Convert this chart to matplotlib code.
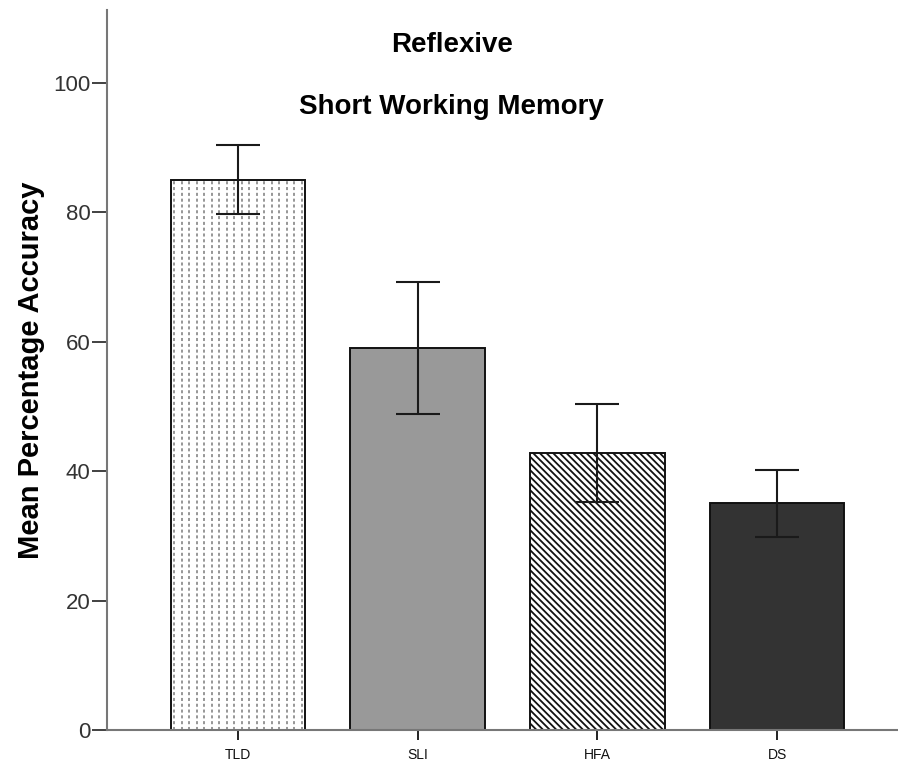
import matplotlib
matplotlib.use("Agg")
import matplotlib.pyplot as plt
import numpy as np

# Group means and 95% CI bounds (percent accuracy)
groups = ["TLD", "SLI", "HFA", "DS"]
means = [85.0, 59.0, 42.8, 35.1]
ci_low = [79.8, 48.8, 35.2, 29.8]
ci_high = [90.4, 69.2, 50.4, 40.2]
yticks = [0, 20, 40, 60, 80, 100]

title_lines = ["Reflexive", "Short Working Memory"]
ylabel = "Mean Percentage Accuracy"

plt.rcParams["font.family"] = ["Liberation Sans", "DejaVu Sans"]
plt.rcParams["hatch.linewidth"] = 1.3

fig = plt.figure(figsize=(8.98, 7.65), dpi=100)
ax = fig.add_axes([0.1192, 0.04575, 1.0 - 0.1192, 0.98693 - 0.04575])

x = np.arange(len(groups))
faces = ["white", "#999999", "white", "#333333"]
hatches = [None, None, "\\" * 5, None]

bars = ax.bar(x, means, width=0.75, color=faces, edgecolor="#111111",
              linewidth=1.4, zorder=2)
for b, h in zip(bars, hatches):
    if h:
        b.set_hatch(h)

# Dotted vertical fill for the first bar, clipped to its rectangle
tld = bars[0]
x0, w = tld.get_x(), tld.get_width()
for xi in np.arange(x0 + w / 36, x0 + w, w / 18):
    ln, = ax.plot([xi, xi], [0, means[0]], color="#7a7a7a", lw=1.1,
                  dashes=(2.0, 1.8), zorder=2.5)
    ln.set_clip_path(tld)

# Error bars
lower = np.array(means) - np.array(ci_low)
upper = np.array(ci_high) - np.array(means)
ax.errorbar(x, means, yerr=[lower, upper], fmt="none", ecolor="#1a1a1a",
            elinewidth=1.5, capsize=16, capthick=1.5, zorder=3)

ax.set_xlim(-0.729, 3.673)
ax.set_ylim(0, 111.3)

ax.set_yticks(yticks)
ax.set_yticklabels([str(t) for t in yticks], fontsize=16, color="#333333")
ax.set_xticks(x)
ax.set_xticklabels(groups, fontsize=10, color="#111111")

ax.tick_params(axis="y", length=10.8, width=1.3, color="#333333", pad=1)
ax.tick_params(axis="x", length=7.2, width=1.3, color="#111111", pad=6)

for s in ["top", "right"]:
    ax.spines[s].set_visible(False)
for s in ["left", "bottom"]:
    ax.spines[s].set_color("#777777")
    ax.spines[s].set_linewidth(1.5)

ax.set_ylabel(ylabel, fontsize=21, fontweight="bold", labelpad=6)

fig.text(452 / 898, 1 - 45 / 765, title_lines[0], ha="center", va="center",
         fontsize=20, fontweight="bold")
fig.text(451 / 898, 1 - 107 / 765, title_lines[1], ha="center", va="center",
         fontsize=20, fontweight="bold")

fig.savefig("out.png", dpi=100)
